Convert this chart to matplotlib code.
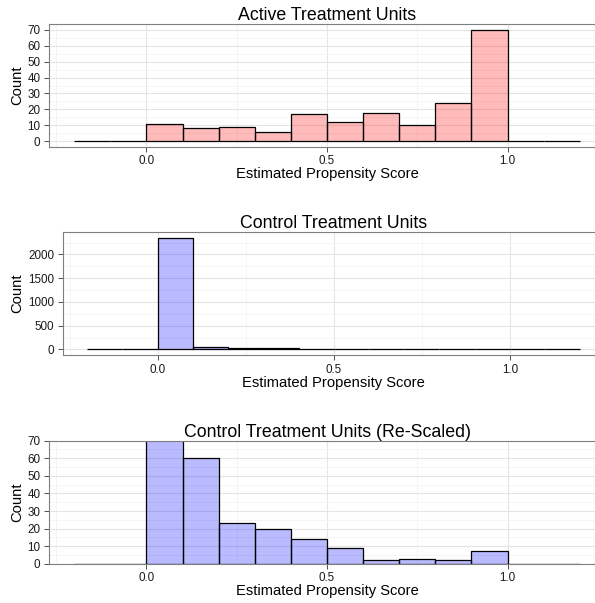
import numpy as np
import matplotlib
matplotlib.use('Agg')
import matplotlib.pyplot as plt
from matplotlib.ticker import MultipleLocator

plt.rcParams['font.family'] = ['Liberation Sans', 'DejaVu Sans']

# histogram bins of width 0.1 from -0.2 to 1.2
bin_left = [-0.2, -0.1, 0.0, 0.1, 0.2, 0.3, 0.4, 0.5, 0.6, 0.7, 0.8, 0.9, 1.0, 1.1]
active_counts = [0, 0, 11, 8, 9, 6, 17, 12, 18, 10, 24, 70, 0, 0]
control_counts = [0, 0, 2345, 60, 23, 20, 14, 9, 2, 3, 2, 7, 0, 0]

titles = ['Active Treatment Units', 'Control Treatment Units',
          'Control Treatment Units (Re-Scaled)']
xlab = 'Estimated Propensity Score'
ylab = 'Count'

W, H = 595, 603
fig = plt.figure(figsize=(W / 100, H / 100), dpi=100)


def make_axes(left, top, bottom, right=605):
    return fig.add_axes([left / W, 1 - bottom / H, (right - left) / W, (bottom - top) / H])


def style(ax, counts, color, title, ymajor, ylim):
    ax.set_axisbelow(True)
    ax.bar(bin_left, counts, width=0.1, align='edge', color=color,
           edgecolor='black', linewidth=0.9, zorder=2)
    ax.set_xlim(-0.27, 1.27)
    ax.set_ylim(*ylim)
    ax.xaxis.set_major_locator(MultipleLocator(0.5))
    ax.xaxis.set_minor_locator(MultipleLocator(0.25))
    ax.yaxis.set_major_locator(MultipleLocator(ymajor))
    ax.yaxis.set_minor_locator(MultipleLocator(ymajor / 2))
    ax.xaxis.set_major_formatter(matplotlib.ticker.FormatStrFormatter('%.1f'))
    ax.grid(which='major', color='#E5E5E5', linewidth=0.8)
    ax.grid(which='minor', color='#F4F4F4', linewidth=0.6)
    for s in ax.spines.values():
        s.set_color('#7F7F7F')
        s.set_linewidth(0.8)
    ax.spines['right'].set_visible(False)
    ax.tick_params(which='major', length=3.4, width=0.6, color='#333333',
                   labelsize=8.4, labelcolor='#1a1a1a', pad=2.8)
    ax.tick_params(which='minor', length=0)
    ax.set_title(title, fontsize=12.8, pad=2.5)
    ax.set_xlabel(xlab, fontsize=10.6, labelpad=0)
    ax.set_ylabel(ylab, fontsize=10.6)


red = (1, 0, 0, 0.27)
blue = (0, 0, 1, 0.27)

ax1 = make_axes(49, 24.3, 146.7)
style(ax1, active_counts, red, titles[0], 10, (-3.5, 73.5))
ax1.yaxis.set_label_coords(24 / W, 1 - 85.5 / H, transform=fig.transFigure)

ax2 = make_axes(62.5, 232.3, 355)
style(ax2, control_counts, blue, titles[1], 500, (-117, 2467))
ax2.yaxis.set_minor_locator(MultipleLocator(250))
ax2.yaxis.set_label_coords(24 / W, 1 - 293.5 / H, transform=fig.transFigure)

ax3 = make_axes(49, 440.7, 563.8)
style(ax3, control_counts, blue, titles[2], 10, (0, 70))
ax3.yaxis.set_label_coords(24 / W, 1 - 502 / H, transform=fig.transFigure)

fig.savefig('out.png', dpi=100)
